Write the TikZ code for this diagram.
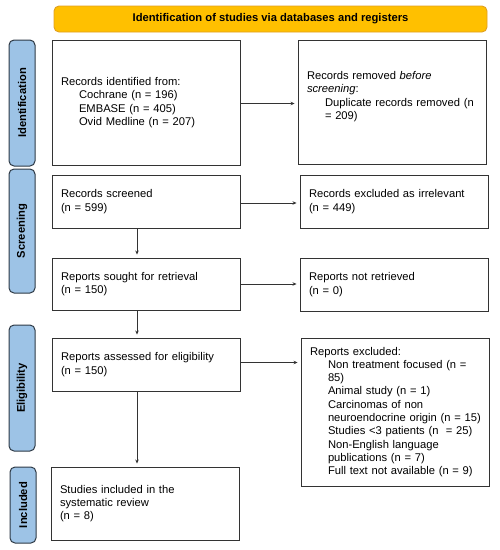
\documentclass[tikz,border=0pt]{standalone}
\usepackage{fontspec}
\setmainfont{Liberation Sans}
\usetikzlibrary{arrows.meta}
\definecolor{hdrfill}{HTML}{FFC000}
\definecolor{hdrdraw}{HTML}{E0A020}
\definecolor{sidefill}{HTML}{9DC3E6}
\definecolor{sidedraw}{HTML}{2E3A46}
\definecolor{linegray}{HTML}{333333}
\begin{document}
\begin{tikzpicture}[x=1pt,y=-1pt,
  box/.style={draw=linegray, line width=0.9pt, align=left, inner xsep=9pt, inner ysep=2pt,
    font=\fontsize{11.2}{13.3}\selectfont, anchor=center},
  hdr/.style={draw=hdrdraw, fill=hdrfill, line width=0.9pt, rounded corners=5pt,
    minimum width=433pt, minimum height=26pt, font=\bfseries\fontsize{11.2}{13.3}\selectfont},
  side/.style={draw=sidedraw, fill=sidefill, line width=1pt, rounded corners=5pt,
    minimum width=26pt, inner sep=0pt},
  sidetext/.style={rotate=90, font=\bfseries\fontsize{11.2}{13.3}\selectfont},
  arr/.style={draw=linegray, line width=0.7pt, -{Stealth[length=4pt,width=3.5pt]}, shorten >=3pt}
]
\useasboundingbox (0,0) rectangle (500,550);
\node[hdr] (hdr) at (270.5,19) {Identification of studies via databases and registers};

% side labels
\node[side, minimum height=126pt] (sid) at (22,103) {};
\node[sidetext] (tid) at (sid.center) {Identification};
\node[side, minimum height=124pt] (sscr) at (22,231) {};
\node[sidetext] (tscr) at (sscr.center) {Screening};
\node[side, minimum height=126pt] (selig) at (22,388) {};
\node[sidetext] (telig) at (selig.center) {Eligibility};
\node[side, minimum height=76pt] (sincl) at (23,505) {};
\node[sidetext] (tincl) at (sincl.center) {Included};

% left boxes
\node[box, text width=170pt, minimum height=125pt] (id) at (146,102.5) {Records identified from:\\
\hspace*{18pt}Cochrane (n = 196)\\
\hspace*{18pt}EMBASE (n = 405)\\
\hspace*{18pt}Ovid Medline (n = 207)};
\node[box, text width=170pt, minimum height=53pt] (scr) at (146,201.5) {Records screened\\(n = 599)};
\node[box, text width=170pt, minimum height=52pt] (sought) at (146,284) {Reports sought for retrieval\\(n = 150)};
\node[box, text width=170pt, minimum height=53pt] (assessed) at (146,364.5) {Reports assessed for eligibility\\(n = 150)};
\node[box, text width=170pt, minimum height=73pt] (incl) at (145,503.5) {Studies included in the\\systematic review\\(n = 8)};

% right boxes
\node[box, text width=170pt, minimum height=124pt] (rem) at (392,102) {Records removed \textit{before}\\
\textit{screening}:\\
\hspace*{18pt}Duplicate records removed (n\\
\hspace*{18pt}= 209)\\ \mbox{}};
\node[box, text width=170pt, minimum height=53pt] (exc) at (394,201.5) {Records excluded as irrelevant\\(n = 449)};
\node[box, text width=170pt, minimum height=53pt] (notret) at (394,284.5) {Reports not retrieved\\(n = 0)};
\node[box, text width=170pt, minimum height=148pt] (excl) at (395,412) {Reports excluded:\\
\hspace*{18pt}Non treatment focused (n =\\
\hspace*{18pt}85)\\
\hspace*{18pt}Animal study (n = 1)\\
\hspace*{18pt}Carcinomas of non\\
\hspace*{18pt}\mbox{neuroendocrine origin (n = 15)}\\
\hspace*{18pt}\mbox{Studies <3 patients (n \ = 25)}\\
\hspace*{18pt}Non-English language\\
\hspace*{18pt}publications (n = 7)\\
\hspace*{18pt}\mbox{Full text not available (n = 9)}};

% horizontal arrows
\draw[arr] ([yshift=-1pt]id.east) -- ([yshift=-1pt]id.east -| rem.west);
\draw[arr] ([yshift=-1.5pt]scr.east) -- ([yshift=-1.5pt]scr.east -| exc.west);
\draw[arr] (sought.east) -- (sought.east -| notret.west);
\draw[arr] ([yshift=2pt]assessed.east) -- ([yshift=2pt]assessed.east -| excl.west);

% vertical arrows
\draw[arr] ([xshift=-9pt]scr.south) -- ([xshift=-9pt]scr.south |- sought.north);
\draw[arr] ([xshift=-9pt]sought.south) -- ([xshift=-9pt]sought.south |- assessed.north);
\draw[arr] ([xshift=-9pt]assessed.south) -- ([xshift=-9pt]assessed.south |- incl.north);
\end{tikzpicture}
\end{document}
